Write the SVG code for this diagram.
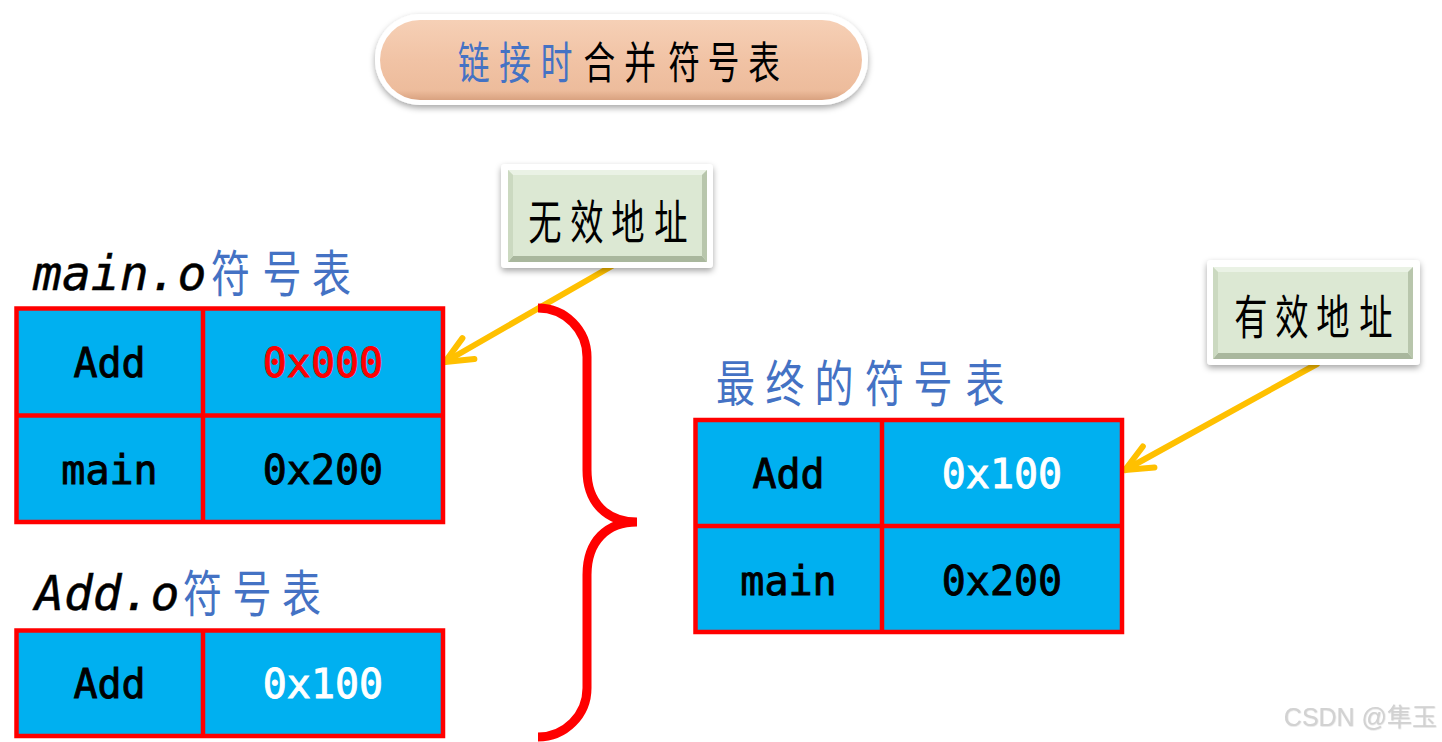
<svg xmlns="http://www.w3.org/2000/svg" width="1442" height="742" viewBox="0 0 1442 742">
<defs>
<style>
.cell{fill:#00B0F0;stroke:#FF0000;stroke-width:4.5}
.grid{stroke:#FF0000;stroke-width:4.5;fill:none}
.mono{font-family:"DejaVu Sans Mono","Liberation Mono",monospace;font-size:40px;font-weight:normal;text-anchor:middle;stroke-width:0.9}
.lab{font-family:"DejaVu Sans Mono","Liberation Mono",monospace;font-size:48px;font-style:italic;fill:#000;stroke:#000;stroke-width:0.5}
.cjk{font-family:"Noto Sans CJK SC","Noto Sans",sans-serif;text-anchor:middle}
.blue{fill:#4472C4}
.arrow{stroke:#FFC000;stroke-width:6;fill:none;stroke-linecap:round}
</style>
<linearGradient id="peach" x1="0" y1="0" x2="0" y2="1">
<stop offset="0" stop-color="#F6D0B6"/>
<stop offset="0.5" stop-color="#F1C3A5"/>
<stop offset="0.88" stop-color="#EDBC9C"/>
<stop offset="1" stop-color="#D9A280"/>
</linearGradient>
<filter id="sh" x="-10%" y="-20%" width="120%" height="150%">
<feDropShadow dx="0" dy="3" stdDeviation="3" flood-color="#000" flood-opacity="0.35"/>
</filter>
<filter id="wm" x="-5%" y="-20%" width="110%" height="150%">
<feDropShadow dx="0.5" dy="0.5" stdDeviation="0.3" flood-color="#AAAAAA" flood-opacity="0.5"/>
</filter>
<marker id="ah" markerUnits="userSpaceOnUse" viewBox="-32 -18 36 36" markerWidth="36" markerHeight="36" refX="0" refY="0" orient="auto" overflow="visible">
<path d="M-27,-12 L0,0 L-27,12" fill="none" stroke="#FFC000" stroke-width="6" stroke-linecap="round" stroke-linejoin="round"/>
</marker>
</defs>
<rect width="1442" height="742" fill="#FFFFFF"/>

<g id="title">
<rect x="375" y="14" width="493" height="91" rx="45" fill="#FFFFFF" filter="url(#sh)"/>
<rect x="380" y="20" width="482" height="80" rx="40" fill="url(#peach)"/>
<text class="cjk" font-size="44" transform="translate(0,79) scale(0.72,1)"><tspan class="blue" x="658.3 715.3 772.9" y="0">链接时</tspan><tspan fill="#000" x="832.6 888.9 950 1004.9 1061.1" y="0">合并符号表</tspan></text>
</g>

<g id="connectors">
<line class="arrow" x1="612" y1="266" x2="445" y2="362" marker-end="url(#ah)"/>
<line class="arrow" x1="1317" y1="364" x2="1125" y2="470" marker-end="url(#ah)"/>
</g>

<g id="invalid-box">
<rect x="501" y="164" width="212" height="104" rx="4" fill="#FFFFFF" filter="url(#sh)"/>
<rect x="508" y="170" width="199" height="92" fill="#DCE8D3"/>
<polygon points="508,170 707,170 702,175 513,175" fill="#EAF2E5"/>
<polygon points="508,262 707,262 702,256 513,256" fill="#A9B79D"/>
<polygon points="508,170 513,175 513,256 508,262" fill="#CBD9C0"/>
<polygon points="707,170 702,175 702,256 707,262" fill="#B8C6AC"/>
<text class="cjk" font-size="47" fill="#000" transform="translate(0,238.5) scale(0.71,1)" x="767.6 826.8 884.5 945.1" y="0">无效地址</text>
</g>

<g id="valid-box">
<rect x="1207" y="260" width="213" height="105" rx="4" fill="#FFFFFF" filter="url(#sh)"/>
<rect x="1213" y="267" width="200" height="92" fill="#DCE8D3"/>
<polygon points="1213,267 1413,267 1408,272 1218,272" fill="#EAF2E5"/>
<polygon points="1213,359 1413,359 1408,353 1218,353" fill="#A9B79D"/>
<polygon points="1213,267 1218,272 1218,353 1213,359" fill="#CBD9C0"/>
<polygon points="1413,267 1408,272 1408,353 1413,359" fill="#B8C6AC"/>
<text class="cjk" font-size="47" fill="#000" transform="translate(0,333.5) scale(0.71,1)" x="1762.0 1819.7 1877.5 1938.0" y="0">有效地址</text>
</g>

<g id="main-o-table">
<text class="lab" x="33" y="290">main.o</text>
<text class="cjk blue" font-size="50" transform="translate(0,291.5) scale(0.78,1)" x="295.5 361.5 425.0" y="0">符号表</text>
<rect class="cell" x="16.5" y="308.5" width="426.5" height="213.5"/>
<line class="grid" x1="203" y1="308.5" x2="203" y2="522"/>
<line class="grid" x1="16.5" y1="415.5" x2="443" y2="415.5"/>
<text class="mono" x="109.5" y="377" fill="#000" stroke="#000">Add</text>
<text class="mono" x="323" y="377" fill="#FF0000" stroke="#FF0000">0x000</text>
<text class="mono" x="109.5" y="484" fill="#000" stroke="#000">main</text>
<text class="mono" x="323" y="484" fill="#000" stroke="#000">0x200</text>
</g>

<g id="add-o-table">
<text class="lab" x="35" y="610">Add.o</text>
<text class="cjk blue" font-size="50" transform="translate(0,611.5) scale(0.78,1)" x="259.6 323.1 386.5" y="0">符号表</text>
<rect class="cell" x="16.5" y="630.5" width="426.5" height="105.5"/>
<line class="grid" x1="203" y1="630.5" x2="203" y2="736"/>
<text class="mono" x="109.5" y="698" fill="#000" stroke="#000">Add</text>
<text class="mono" x="323" y="698" fill="#FFFFFF" stroke="#FFFFFF">0x100</text>
</g>

<g id="brace">
<path d="M538,308 A49,49 0 0 1 587,357 L587,470 C587,503 607,522 637,522 C607,522 587,541 587,575 L587,688 A49,49 0 0 1 538,737" fill="none" stroke="#FF0000" stroke-width="9"/>
</g>

<g id="final-table">
<text class="cjk blue" font-size="50" transform="translate(0,401.5) scale(0.78,1)" x="942.9 1006.4 1069.2 1134.0 1196.2 1262.8" y="0">最终的符号表</text>
<rect class="cell" x="695.5" y="420" width="426.5" height="212"/>
<line class="grid" x1="882" y1="420" x2="882" y2="632"/>
<line class="grid" x1="695.5" y1="526" x2="1122" y2="526"/>
<text class="mono" x="788.5" y="488" fill="#000" stroke="#000">Add</text>
<text class="mono" x="1002" y="488" fill="#FFFFFF" stroke="#FFFFFF">0x100</text>
<text class="mono" x="788.5" y="595" fill="#000" stroke="#000">main</text>
<text class="mono" x="1002" y="595" fill="#000" stroke="#000">0x200</text>
</g>

<g id="watermark">
<text x="1437" y="726" font-family="'Liberation Sans','Noto Sans CJK SC',sans-serif" font-size="25" font-weight="normal" fill="#D2D2D2" text-anchor="end" filter="url(#wm)">CSDN @隼玉</text>
</g>
</svg>
